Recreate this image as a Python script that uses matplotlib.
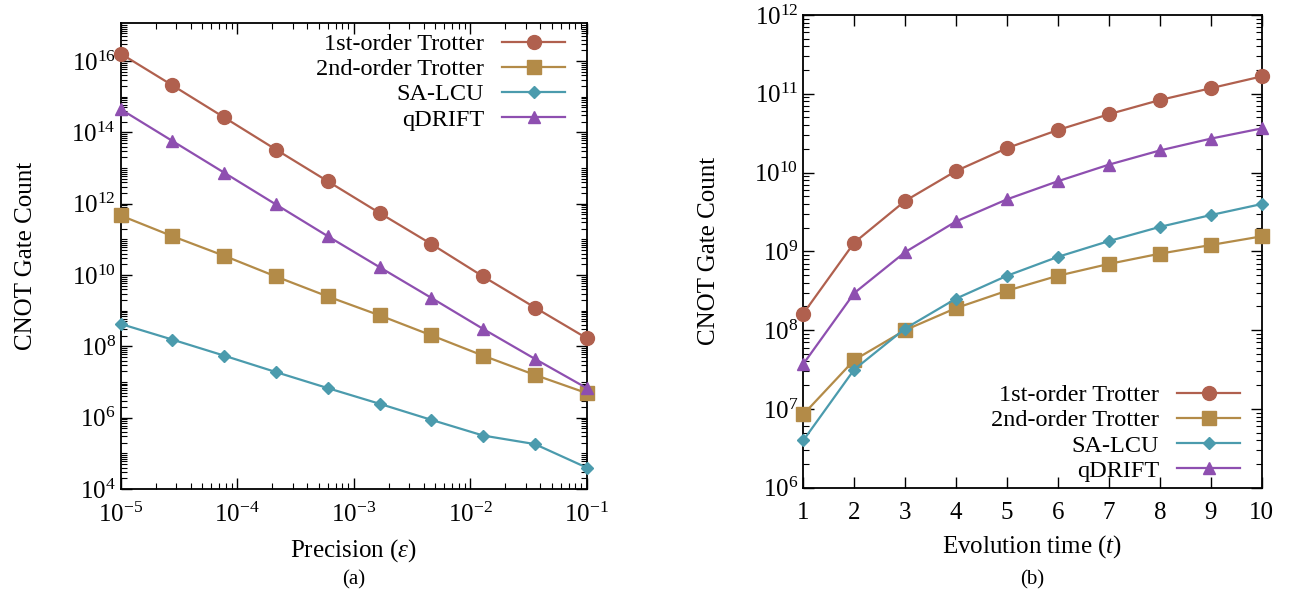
import numpy as np
import matplotlib
matplotlib.use("Agg")
import matplotlib.pyplot as plt
from matplotlib.ticker import LogLocator, NullFormatter, FixedLocator

plt.rcParams["font.family"] = ["Liberation Serif", "DejaVu Serif"]
plt.rcParams["mathtext.fontset"] = "custom"
plt.rcParams["mathtext.rm"] = "Liberation Serif"
plt.rcParams["mathtext.it"] = "Liberation Serif:italic"

# ---------------------------------------------------------------
# (a) CNOT count vs precision (log10 of gate count)
# ---------------------------------------------------------------
eps = [1e-5, 2.78e-5, 7.74e-5, 2.15e-4, 5.99e-4, 1.67e-3, 4.64e-3, 1.29e-2, 3.59e-2, 1e-1]
a_trot1 = [16.21, 15.32, 14.42, 13.52, 12.63, 11.74, 10.87, 9.96, 9.09, 8.23]
a_trot2 = [11.67, 11.09, 10.54, 9.96, 9.40, 8.87, 8.31, 7.74, 7.20, 6.69]
a_salcu = [8.63, 8.19, 7.74, 7.28, 6.83, 6.39, 5.94, 5.50, 5.26, 4.60]
a_qdrift = [14.65, 13.76, 12.87, 11.98, 11.09, 10.22, 9.36, 8.49, 7.65, 6.83]

# ---------------------------------------------------------------
# (b) CNOT count vs evolution time (log10 of gate count)
# ---------------------------------------------------------------
t_evo = [1, 2, 3, 4, 5, 6, 7, 8, 9, 10]
b_trot1 = [8.21, 9.11, 9.64, 10.02, 10.31, 10.54, 10.74, 10.92, 11.07, 11.22]
b_trot2 = [6.93, 7.62, 8.00, 8.28, 8.50, 8.69, 8.84, 8.97, 9.08, 9.19]
b_salcu = [6.60, 7.50, 8.02, 8.40, 8.69, 8.93, 9.13, 9.31, 9.46, 9.60]
b_qdrift = [7.57, 8.47, 8.99, 9.38, 9.66, 9.89, 10.10, 10.28, 10.43, 10.56]

labels = ["1st-order Trotter", "2nd-order Trotter", "SA-LCU", "qDRIFT"]
colors = ["#b0604e", "#b38b48", "#4b9bad", "#8e4fb0"]
markers = ["o", "s", "D", "^"]
msizes = [10, 10, 6.5, 8.5]

fig = plt.figure(figsize=(13.07, 6.03), dpi=100)
ax1 = fig.add_axes([0.0923, 0.189, 0.3566, 0.773])
ax2 = fig.add_axes([0.6146, 0.1912, 0.3507, 0.784])


def draw(ax, x, series):
    for ys, lab, c, m, ms in zip(series, labels, colors, markers, msizes):
        ax.plot(x, 10.0 ** np.array(ys), color=c, marker=m, markersize=ms,
                linewidth=1.6, label=lab, clip_on=False, zorder=3)


def legend(ax, loc, anchor):
    leg = ax.legend(loc=loc, bbox_to_anchor=anchor, frameon=False, markerfirst=False,
                    fontsize=17.5, handlelength=2.6, handletextpad=0.75,
                    labelspacing=0.13, borderaxespad=0.0)
    # gnuplot style: right-aligned labels
    for col in leg._legend_handle_box.get_children():
        col.align = "right"
    return leg


draw(ax1, eps, [a_trot1, a_trot2, a_salcu, a_qdrift])
ax1.set_xscale("log")
ax1.set_yscale("log")
ax1.set_xlim(1e-5, 1e-1)
ax1.set_ylim(1e4, 10 ** 17.07)
ax1.yaxis.set_major_locator(FixedLocator([1e4, 1e6, 1e8, 1e10, 1e12, 1e14, 1e16]))
ax1.yaxis.set_minor_locator(LogLocator(base=10, subs=np.arange(1, 10), numticks=40))
ax1.yaxis.set_minor_formatter(NullFormatter())
ax1.xaxis.set_minor_locator(LogLocator(base=10, subs=np.arange(2, 10), numticks=20))
ax1.xaxis.set_minor_formatter(NullFormatter())
ax1.set_xlabel(r"Precision ($\varepsilon$)", fontsize=18, labelpad=7)
ax1.set_ylabel("CNOT Gate Count", fontsize=18, labelpad=25)
legend(ax1, "upper right", (0.975, 0.999))

draw(ax2, t_evo, [b_trot1, b_trot2, b_salcu, b_qdrift])
ax2.set_yscale("log")
ax2.set_xlim(1, 10)
ax2.set_ylim(1e6, 1e12)
ax2.set_xticks(t_evo)
ax2.yaxis.set_major_locator(LogLocator(base=10, numticks=20))
ax2.yaxis.set_minor_locator(LogLocator(base=10, subs=np.arange(2, 10), numticks=40))
ax2.yaxis.set_minor_formatter(NullFormatter())
ax2.set_xlabel(r"Evolution time ($t$)", fontsize=18, labelpad=7)
ax2.set_ylabel("CNOT Gate Count", fontsize=18, labelpad=25)
legend(ax2, "lower right", (0.975, -0.008))

for ax in (ax1, ax2):
    ax.tick_params(which="both", direction="in", top=True, right=True, labelsize=18)
    ax.tick_params(which="major", length=8, width=1)
    ax.tick_params(which="minor", length=4, width=0.8)
    ax.tick_params(axis="x", pad=10)
    for s in ax.spines.values():
        s.set_linewidth(1.3)

fig.text(0.2706, 0.038, "(a)", ha="center", va="center", fontsize=15)
fig.text(0.79, 0.038, "(b)", ha="center", va="center", fontsize=15)

fig.savefig("out.png", dpi=100)
